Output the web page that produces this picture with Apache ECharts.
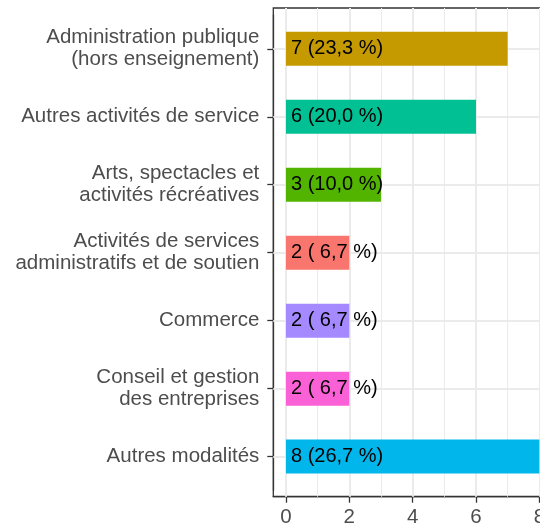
<!DOCTYPE html>
<html>
<head>
<meta charset="utf-8">
<script src="https://cdn.jsdelivr.net/npm/echarts@6/dist/echarts.min.js"></script>
<style>
  html, body { margin: 0; padding: 0; background: #fff; }
  #chart { width: 540px; height: 528px; }
</style>
</head>
<body>
<div id="chart"></div>
<script>
// categories, top to bottom
const categories = [
    'Administration publique\n(hors enseignement)',
    'Autres activités de service',
    'Arts, spectacles et\nactivités récréatives',
    'Activités de services\nadministratifs et de soutien',
    'Commerce',
    'Conseil et gestion\ndes entreprises',
    'Autres modalités'
];
const counts = [7, 6, 3, 2, 2, 2, 8];
const barLabels = ['7 (23,3 %)', '6 (20,0 %)', '3 (10,0 %)', '2 ( 6,7 %)', '2 ( 6,7 %)', '2 ( 6,7 %)', '8 (26,7 %)'];
const barColors = ['#C49A00', '#00C094', '#53B400', '#F8766D', '#A58AFF', '#FB61D7', '#00B6EB'];
const xTicks = [0, 2, 4, 6, 8];
const xMinorTicks = [1, 3, 5, 7];

const font = '"Liberation Sans", Arial, sans-serif';
const frame = { color: '#333', width: 1.3 };
const chart = echarts.init(document.getElementById('chart'), null, { renderer: 'canvas' });

const options = {
    backgroundColor: '#fff',
    animation: false,
    grid: [
        {   // panel frame
            left: 273.3, top: 8, width: 278.7, height: 488.7,
            show: true, borderColor: '#333', borderWidth: 1.3, backgroundColor: '#fff',
            containLabel: false, outerBoundsMode: 'none'
        },
        {   // bars area (ggplot 0.6 category expansion)
            left: 273.3, top: 14.8, width: 278.7, height: 475.8,
            containLabel: false, outerBoundsMode: 'none'
        }
    ],
    xAxis: [
        {
            gridIndex: 0, type: 'value', min: -0.4, max: 8.4, position: 'bottom',
            axisLine: { show: true, onZero: false, lineStyle: frame },
            splitLine: { show: false },
            axisTick: { show: true, customValues: xTicks, length: 6, lineStyle: frame },
            axisLabel: { customValues: xTicks, color: '#4D4D4D', fontSize: 20.5, fontFamily: font, margin: 10 }
        },
        {
            gridIndex: 1, type: 'value', min: -0.4, max: 8.4, show: false,
            splitLine: { show: false }
        }
    ],
    yAxis: [
        { gridIndex: 0, type: 'value', min: 0, max: 1, show: false, splitLine: { show: false } },
        {
            gridIndex: 1, type: 'category', inverse: true, data: categories, position: 'left',
            axisLine: { show: true, onZero: false, lineStyle: frame },
            splitLine: { show: false },
            axisTick: { show: true, alignWithLabel: true, length: 6, lineStyle: frame },
            axisLabel: { color: '#4D4D4D', fontSize: 20.5, fontFamily: font, margin: 14, lineHeight: 22 }
        }
    ],
    series: [
        {   // holder for vertical grid lines
            type: 'scatter', xAxisIndex: 0, yAxisIndex: 0, data: [[0, 0]], symbolSize: 0, silent: true,
            markLine: {
                silent: true, symbol: 'none', z: 1, animation: false,
                label: { show: false },
                data: [
                    ...xMinorTicks.map(v => ({ xAxis: v, lineStyle: { color: '#EBEBEB', width: 1, type: 'solid' } })),
                    ...xTicks.map(v => ({ xAxis: v, lineStyle: { color: '#EBEBEB', width: 2, type: 'solid' } }))
                ]
            }
        },
        {
            type: 'bar', xAxisIndex: 1, yAxisIndex: 1, z: 3,
            barWidth: '50%',
            data: counts.map((v, i) => ({ value: v, itemStyle: { color: barColors[i] } })),
            label: {
                show: true, position: 'insideLeft', distance: 5,
                color: '#000', fontSize: 20, fontFamily: font,
                formatter: (p) => barLabels[p.dataIndex]
            },
            markLine: {
                silent: true, symbol: 'none', z: 1, animation: false,
                label: { show: false },
                lineStyle: { color: '#EBEBEB', width: 2, type: 'solid' },
                data: categories.map(c => ({ yAxis: c }))
            }
        }
    ]
};

chart.setOption(options);
</script>
</body>
</html>
